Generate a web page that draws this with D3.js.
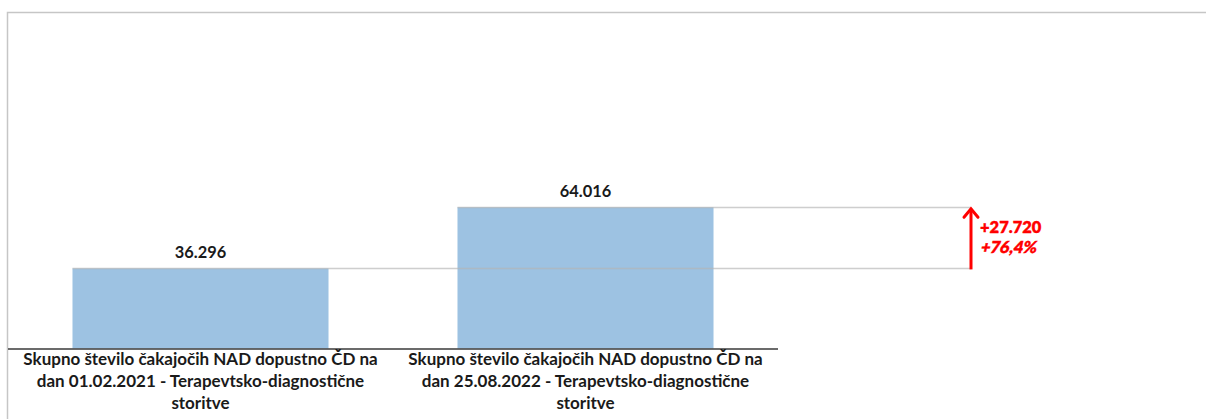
<!DOCTYPE html>
<html>
<head>
<meta charset="utf-8">
<script src="https://cdn.jsdelivr.net/npm/d3@7"></script>
<style>
  html, body { margin: 0; padding: 0; background: #ffffff; }
  svg { display: block; }
  text { font-family: Lato, "Noto Sans", sans-serif; }
</style>
</head>
<body>
<svg id="chart" width="1206" height="419"></svg>
<script>
// Waiting-list totals on two dates
const categories = [
  "Skupno število čakajočih NAD dopustno ČD na\ndan 01.02.2021 - Terapevtsko-diagnostične\nstoritve",
  "Skupno število čakajočih NAD dopustno ČD na\ndan 25.08.2022 - Terapevtsko-diagnostične\nstoritve"
];
const values = [36296, 64016];
const yDomain = [0, 150000];

const sl = d3.formatLocale({ decimal: ",", thousands: ".", grouping: [3], currency: ["", " €"] });
const fmtInt = sl.format(",d");
const fmtPct = sl.format(".1f");

const svg = d3.select("#chart");

// Frame (top and left edges)
svg.append("path")
  .attr("d", "M7.5,419 V12.5 H1206")
  .attr("fill", "none")
  .attr("stroke", "#c6c6c6")
  .attr("stroke-width", 1.5);

const x = d3.scaleBand()
  .domain(categories)
  .range([8, 778])
  .paddingInner(0.335)
  .paddingOuter(0.1675);

const y = d3.scaleLinear()
  .domain(yDomain)
  .range([348.5, 17.5]);

const data = categories.map((c, i) => ({ cat: c, value: values[i] }));

// Bars
svg.selectAll("rect.bar")
  .data(data)
  .join("rect")
  .attr("class", "bar")
  .attr("x", d => x(d.cat))
  .attr("y", d => y(d.value))
  .attr("width", x.bandwidth())
  .attr("height", d => y(0) - y(d.value))
  .attr("fill", "#9dc2e2");

// Value labels
svg.selectAll("text.val")
  .data(data)
  .join("text")
  .attr("class", "val")
  .attr("x", d => x(d.cat) + x.bandwidth() / 2)
  .attr("y", d => y(d.value) - 10)
  .attr("text-anchor", "middle")
  .attr("font-size", 16.4)
  .attr("font-weight", 700)
  .attr("fill", "#1a1a1a")
  .text(d => fmtInt(d.value));

// Comparison guide lines from each bar top to the arrow
const arrowX = 971;
svg.selectAll("line.guide")
  .data(data)
  .join("line")
  .attr("class", "guide")
  .attr("x1", d => x(d.cat))
  .attr("x2", arrowX)
  .attr("y1", d => Math.round(y(d.value)) + 0.5)
  .attr("y2", d => Math.round(y(d.value)) + 0.5)
  .attr("stroke", "#b4b4b4")
  .attr("stroke-opacity", 0.65)
  .attr("stroke-width", 1.5);

// Category axis
const xAxis = d3.axisBottom(x).tickSize(0).tickFormat("");
const gx = svg.append("g")
  .attr("transform", `translate(0,${y(0) + 0.5})`)
  .call(xAxis);
gx.select(".domain")
  .attr("d", "M8,0 H778")
  .attr("stroke", "#3a3a3a")
  .attr("stroke-width", 1.5);

gx.selectAll(".tick").each(function(d) {
  const lines = d.split("\n");
  const t = d3.select(this).append("text")
    .attr("text-anchor", "middle")
    .attr("font-size", 17)
    .attr("font-weight", 700)
    .attr("fill", "#1a1a1a");
  lines.forEach((ln, i) => {
    t.append("tspan")
      .attr("x", 0)
      .attr("y", 16 + i * 22.2)
      .text(ln);
  });
});

// Change arrow and annotation
const diff = values[1] - values[0];
const pct = diff / values[0] * 100;
const yTop = y(values[1]);
const yBot = y(values[0]);

svg.append("line")
  .attr("x1", arrowX).attr("x2", arrowX)
  .attr("y1", yBot + 1).attr("y2", yTop + 1.5)
  .attr("stroke", "#ff0000")
  .attr("stroke-width", 3);

svg.append("path")
  .attr("d", `M${arrowX - 7},${yTop + 10} L${arrowX},${yTop + 1.5} L${arrowX + 7},${yTop + 10}`)
  .attr("fill", "none")
  .attr("stroke", "#ff0000")
  .attr("stroke-width", 3)
  .attr("stroke-linecap", "round")
  .attr("stroke-linejoin", "miter");

svg.append("text")
  .attr("x", 980)
  .attr("y", 233)
  .attr("font-size", 16.5)
  .attr("font-weight", 800)
  .attr("fill", "#ff0000")
  .attr("stroke", "#ff0000")
  .attr("stroke-width", 0.3)
  .text("+" + fmtInt(diff));

// Percentage change, slanted
svg.append("g")
  .attr("transform", "translate(980,253) skewX(-12)")
  .append("text")
  .attr("x", 0)
  .attr("y", 0)
  .attr("font-size", 16.5)
  .attr("font-weight", 800)
  .attr("fill", "#ff0000")
  .attr("stroke", "#ff0000")
  .attr("stroke-width", 0.3)
  .text("+" + fmtPct(pct) + "%");
</script>
</body>
</html>
